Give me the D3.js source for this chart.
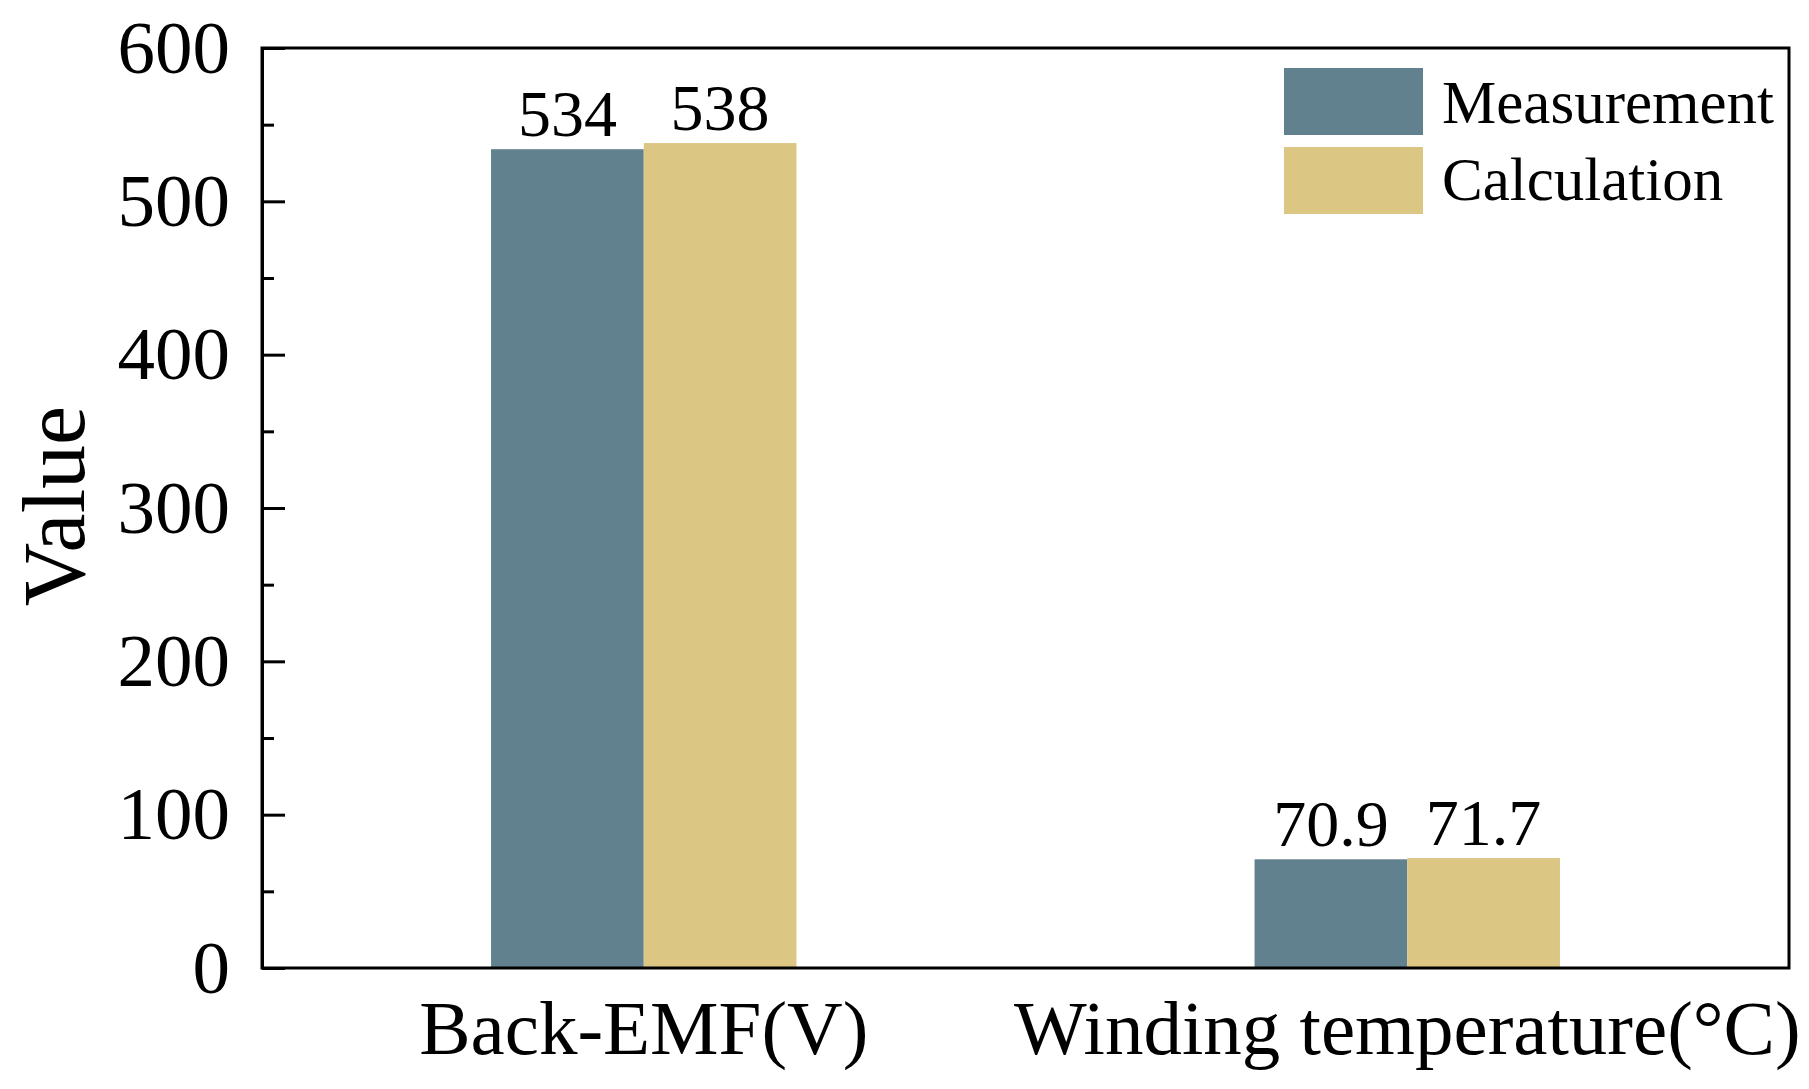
<!DOCTYPE html>
<html>
<head>
<meta charset="utf-8">
<script src="https://cdn.jsdelivr.net/npm/d3@7"></script>
<style>
  html, body { margin: 0; padding: 0; background: #fff; }
  svg { display: block; }
  text { font-family: "Liberation Serif", "Times New Roman", serif; fill: #000; }
</style>
</head>
<body>
<svg id="chart" width="1809" height="1089"></svg>
<script>
const categories = ["Back-EMF(V)", "Winding temperature(°C)"];
const seriesNames = ["Measurement", "Calculation"];
const measurement = [534, 70.9];
const calculation = [538, 71.7];
const valueLabels = [["534", "538"], ["70.9", "71.7"]];
const yTicks = [0, 100, 200, 300, 400, 500, 600];
const yMinorTicks = [50, 150, 250, 350, 450, 550];
const colors = ["#62818f", "#dcc683"];

const svg = d3.select("#chart");
const margin = { left: 262, right: 20, top: 48, bottom: 121 };
const W = 1809, H = 1089;
const x0 = margin.left, x1 = W - margin.right, yTop = margin.top, yBot = H - margin.bottom;

const x = d3.scaleBand().domain(categories).range([x0, x1]).paddingInner(0.6).paddingOuter(0.3);
const xs = d3.scaleBand().domain(seriesNames).range([0, x.bandwidth()]);
const y = d3.scaleLinear().domain([0, 600]).range([yBot, yTop]);

const series = [measurement, calculation];

// bars
const g = svg.append("g");
categories.forEach((c, i) => {
  seriesNames.forEach((s, j) => {
    const v = series[j][i];
    g.append("rect")
      .attr("x", x(c) + xs(s))
      .attr("width", xs.bandwidth())
      .attr("y", y(v))
      .attr("height", y(0) - y(v))
      .attr("fill", colors[j]);
    g.append("text")
      .attr("x", x(c) + xs(s) + xs.bandwidth() / 2)
      .attr("y", y(v) - 13)
      .attr("text-anchor", "middle")
      .style("font-size", "66px")
      .text(valueLabels[i][j]);
  });
});

// frame
svg.append("rect")
  .attr("x", x0).attr("y", yTop)
  .attr("width", x1 - x0).attr("height", yBot - yTop)
  .attr("fill", "none").attr("stroke", "#000").attr("stroke-width", 3);

// y axis major
const yAxis = d3.axisLeft(y).tickValues(yTicks).tickSizeInner(-23).tickSizeOuter(0).tickPadding(32);
const ya = svg.append("g").attr("transform", `translate(${x0},0)`).call(yAxis);
ya.select(".domain").attr("stroke", "#000").attr("stroke-width", 3);
ya.selectAll(".tick line").attr("stroke", "#000").attr("stroke-width", 3);
ya.selectAll(".tick text").style("font-size", "75px").attr("font-family", null);

// y minor ticks
const yMinor = d3.axisLeft(y).tickValues(yMinorTicks).tickSizeInner(-12).tickSizeOuter(0).tickFormat("");
const ym = svg.append("g").attr("transform", `translate(${x0},0)`).call(yMinor);
ym.select(".domain").remove();
ym.selectAll(".tick line").attr("stroke", "#000").attr("stroke-width", 3);

// x axis (labels only)
const xAxis = d3.axisBottom(x).tickSize(0);
const xa = svg.append("g").attr("transform", `translate(0,${yBot})`).call(xAxis);
xa.select(".domain").remove();
xa.selectAll(".tick text").style("font-size", "77px").attr("y", 86).attr("dy", 0);

// y label
svg.append("text")
  .attr("transform", `translate(84,506) rotate(-90)`)
  .attr("text-anchor", "middle")
  .style("font-size", "88px")
  .text("Value");

// legend
const leg = svg.append("g");
const legY = [68, 147];
const legBase = [123, 200];
seriesNames.forEach((s, j) => {
  leg.append("rect").attr("x", 1284).attr("y", legY[j]).attr("width", 139).attr("height", 67).attr("fill", colors[j]);
  leg.append("text").attr("x", 1442).attr("y", legBase[j]).style("font-size", "61px").text(s);
});
</script>
</body>
</html>
